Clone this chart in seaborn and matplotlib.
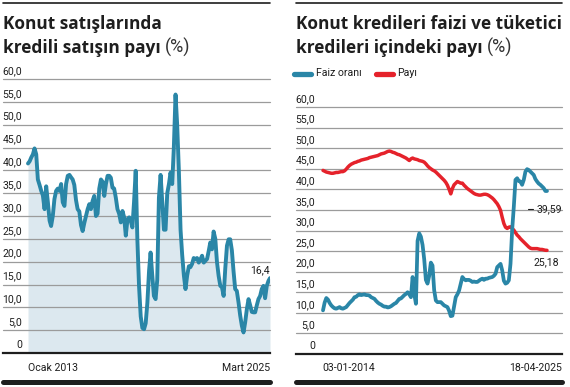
import numpy as np
import pandas as pd
import matplotlib.pyplot as plt
import matplotlib.dates as mdates
import matplotlib.transforms as mtransforms
import seaborn as sns
from matplotlib.lines import Line2D

# %% Data — left: share of mortgage sales in housing sales (monthly, Jan 2013 – Mar 2025)
sales_share = [
    41.5, 42.0, 42.8, 43.5, 44.8, 43.5, 38.0, 36.8, 35.5, 34.5, 31.5, 36.5,
    33.0, 29.0, 27.8, 30.0, 33.7, 35.5, 36.0, 35.5, 37.0, 33.0, 32.2, 37.0,
    38.8, 39.0, 38.5, 38.0, 36.8, 33.5, 31.5, 31.0, 28.0, 26.7, 28.5, 30.0,
    31.5, 32.6, 31.5, 33.3, 34.4, 30.0, 30.5, 36.0, 38.0, 37.5, 34.4, 37.0,
    38.8, 38.8, 38.4, 36.2, 36.0, 34.0, 31.5, 30.5, 28.6, 31.1, 29.7, 25.7,
    29.3, 29.7, 29.0, 27.5, 33.0, 39.9, 25.0, 14.7, 8.0, 5.5, 5.2, 6.5,
    11.0, 18.0, 22.0, 17.0, 12.5, 11.8, 16.0, 34.0, 39.0, 33.0, 27.0, 27.0,
    35.0, 37.0, 39.5, 37.0, 45.0, 56.6, 50.0, 40.0, 27.0, 21.5, 17.0, 14.0,
    17.0, 19.0, 18.8, 19.5, 20.8, 20.5, 20.8, 19.8, 20.5, 21.3, 19.8, 20.2,
    20.6, 22.4, 24.2, 22.7, 26.6, 25.0, 20.0, 16.9, 14.7, 14.4, 12.5, 18.5,
    23.5, 24.9, 24.9, 22.5, 18.0, 14.0, 13.6, 11.1, 8.2, 6.0, 4.5, 6.7,
    9.6, 11.8, 10.5, 9.0, 8.9, 8.9, 10.4, 11.8, 12.5, 14.0, 14.7, 12.0,
    14.7, 15.8, 16.4,
]
left_xlabels = ["Ocak 2013", "Mart 2025"]

# %% Data — right: mortgage rate and share in consumer loans (03-01-2014 – 18-04-2025)
rate = [
    10.6, 12.5, 13.6, 13.2, 12.4, 11.8, 11.4, 11.1, 11.0, 11.2, 11.4, 11.1,
    11.0, 11.2, 11.4, 11.9, 12.4, 12.8, 13.2, 13.8, 13.9, 14.3, 14.5, 14.3,
    14.4, 14.5, 14.3, 14.3, 14.2, 13.8, 13.6, 13.4, 12.9, 12.5, 12.2, 12.0,
    11.7, 11.5, 11.5, 11.3, 11.4, 11.6, 11.9, 12.2, 12.4, 12.9, 13.4, 13.5,
    13.9, 14.3, 14.6, 15.0, 14.5, 13.8, 18.7, 14.6, 12.2, 27.5, 29.3, 28.5,
    26.5, 23.0, 18.0, 17.1, 19.0, 22.2, 21.5, 15.5, 13.0, 12.6, 12.6, 12.6,
    12.2, 11.8, 11.6, 11.4, 10.5, 9.2, 9.3, 11.5, 13.8, 14.5, 15.4, 17.1,
    18.7, 18.2, 17.9, 18.0, 18.0, 17.8, 17.5, 17.6, 17.5, 17.5, 17.8, 18.1,
    18.3, 18.0, 18.3, 18.3, 18.5, 18.6, 18.7, 19.0, 19.5, 21.1, 21.5, 21.9,
    20.3, 17.8, 17.1, 17.3, 17.9, 21.9, 30.1, 35.8, 42.3, 42.7, 42.0, 41.9,
    41.1, 42.3, 44.3, 44.9, 44.7, 44.3, 43.9, 43.5, 42.5, 41.9, 41.4, 41.1,
    40.7, 40.3, 39.6, 39.59,
]
share = [
    44.6, 44.4, 44.2, 44.1, 44.0, 43.9, 43.9, 44.0, 44.1, 44.1, 44.2, 44.3,
    44.3, 44.5, 44.9, 45.4, 45.8, 46.1, 46.3, 46.5, 46.6, 46.8, 46.9, 47.1,
    47.2, 47.3, 47.4, 47.5, 47.7, 47.8, 47.9, 48.0, 48.1, 48.2, 48.4, 48.6,
    48.7, 48.8, 49.0, 49.2, 49.3, 49.2, 49.0, 48.9, 48.7, 48.5, 48.4, 48.2,
    48.0, 47.8, 47.6, 47.3, 47.0, 47.4, 47.6, 47.4, 47.3, 47.2, 47.0, 46.9,
    46.8, 46.6, 46.2, 45.7, 45.3, 45.0, 44.7, 44.5, 44.2, 43.8, 43.4, 43.0,
    42.6, 42.2, 41.7, 41.0, 40.0, 38.9, 40.2, 41.1, 41.5, 41.9, 41.7, 41.5,
    41.5, 41.0, 40.6, 40.2, 39.9, 39.6, 39.3, 39.0, 38.8, 38.7, 38.6, 38.6,
    38.7, 38.8, 38.8, 38.7, 38.5, 38.2, 37.9, 37.5, 37.0, 36.5, 35.8, 34.9,
    33.2, 31.7, 30.8, 30.5, 30.8, 30.9, 30.5, 30.1, 29.5, 28.9, 28.5, 28.0,
    27.6, 27.2, 26.8, 26.4, 26.0, 25.7, 25.6, 25.6, 25.6, 25.6, 25.5, 25.4,
    25.4, 25.3, 25.2, 25.18,
]
right_xlabels = ["03-01-2014", "18-04-2025"]
legend_labels = ["Faiz oranı", "Payı"]
end_labels = ["39,59", "25,18"]

yticks = list(range(0, 61, 5))
ytick_labels = ["0"] + [f"{v},0" for v in yticks[1:]]

months = pd.date_range("2013-01-01", periods=len(sales_share), freq="MS")
days = pd.date_range("2014-01-03", "2025-04-18", periods=len(rate))

# %% Style
BLUE = "#2a86a7"
RED = "#e5222b"
FILL = "#dce8ef"
GRID = "#9b9b9b"
INK = "#1e1e1e"
SMALL = "Roboto"
FS = 7.6

sns.set_theme(style="white")
plt.rcParams["font.family"] = ["Roboto", "DejaVu Sans"]

W, H = 570, 387
fig = plt.figure(figsize=(W / 100, H / 100), dpi=100)


def fx(px):
    return px / W


def fy(py):
    return 1 - py / H


def add_panel(x0, x1, y_top, y_bot):
    return fig.add_axes([fx(x0), fy(y_bot), fx(x1 - x0), (y_bot - y_top) / H])


def setup(ax, x0px, x1px, label_right_px):
    ax.set_ylim(0, 60)
    for s in ["top", "right", "left"]:
        ax.spines[s].set_visible(False)
    ax.spines["bottom"].set_color(INK)
    ax.spines["bottom"].set_linewidth(1.6)
    ax.tick_params(left=False, bottom=False, labelleft=False, labelbottom=False)
    for v in yticks[1:]:
        ax.axhline(v, color=GRID, lw=0.9, zorder=1, clip_on=False)
    frac = (label_right_px - x0px) / (x1px - x0px)
    trans = mtransforms.blended_transform_factory(ax.transAxes, ax.transData)
    for v, lab in zip(yticks, ytick_labels):
        ax.annotate(lab, (frac, v), xycoords=trans, xytext=(0, 2.2),
                    textcoords="offset points", ha="right", va="bottom",
                    fontsize=FS, family=SMALL, color=INK)


def set_xlim(ax, dates, left_px, right_px, span_px):
    d0, d1 = mdates.date2num(dates[0]), mdates.date2num(dates[-1])
    pp = (d1 - d0) / span_px
    ax.set_xlim(d0 - left_px * pp, d1 + right_px * pp)


def title(x, y1, y2, line1, line2):
    kw = dict(fontsize=12.4, fontweight="bold", color=INK, va="baseline",
              family=["Open Sans", "DejaVu Sans"])
    fig.text(fx(x), fy(y1), line1, **kw)
    t = fig.text(fx(x), fy(y2), line2, **kw)
    r = fig.canvas.get_renderer()
    bb = t.get_window_extent(renderer=r)
    fig.text(bb.x1 / W + fx(4), fy(y2), "(%)", fontsize=13, fontweight="normal",
             color="#333333", va="baseline", family=["Roboto", "DejaVu Sans"])


def frame_rules(x0, x1):
    fig.add_artist(Line2D([fx(x0), fx(x1)], [fy(3), fy(3)], color=INK, lw=1.2))
    fig.add_artist(Line2D([fx(x0), fx(x1)], [fy(381.5), fy(381.5)], color=INK, lw=3.6))


# %% Left panel
axl = add_panel(3, 270, 79, 353)
setup(axl, 3, 270, 22)
set_xlim(axl, months, 25, 0, 242)
axl.fill_between(months, sales_share, 0, color=FILL, lw=0, zorder=0.5)
sns.lineplot(x=months, y=sales_share, ax=axl, color=BLUE, lw=2.8, zorder=3)
axl.set(xlabel="", ylabel="")
axl.annotate("16,4", (1, 17.0), xycoords=("axes fraction", "data"), ha="right",
             va="bottom", fontsize=FS, family=SMALL, color=INK)
fig.text(fx(28), fy(368), left_xlabels[0], ha="left", va="center", fontsize=FS,
         family=SMALL, color=INK)
fig.text(fx(270), fy(368), left_xlabels[1], ha="right", va="center", fontsize=FS,
         family=SMALL, color=INK)
title(3, 29, 53, "Konut satışlarında", "kredili satışın payı")
frame_rules(3, 270)

# %% Right panel
axr = add_panel(296, 562, 107, 354)
setup(axr, 296, 562, 315)
set_xlim(axr, days, 27, 15, 224)
sns.lineplot(x=days, y=share, ax=axr, color=RED, lw=2.5, zorder=3)
sns.lineplot(x=days, y=rate, ax=axr, color=BLUE, lw=2.7, zorder=4)
axr.set(xlabel="", ylabel="")
trans_r = mtransforms.blended_transform_factory(axr.transAxes, axr.transData)
axr.text((537 - 296) / 266, 35.2, end_labels[0], transform=trans_r, ha="left",
         va="center", fontsize=FS, family=SMALL, color=INK)
axr.plot([(528 - 296) / 266, (533 - 296) / 266], [35.2, 35.2], transform=trans_r,
         color=INK, lw=0.8)
axr.text((533 - 296) / 266, 22.3, end_labels[1], transform=trans_r, ha="left",
         va="center", fontsize=FS, family=SMALL, color=INK)
fig.text(fx(322), fy(368), right_xlabels[0], ha="left", va="center", fontsize=FS,
         family=SMALL, color=INK)
fig.text(fx(562), fy(368), right_xlabels[1], ha="right", va="center", fontsize=FS,
         family=SMALL, color=INK)
title(296, 29, 53, "Konut kredileri faizi ve tüketici", "kredileri içindeki payı")
frame_rules(296, 562)

# legend
for (x0, x1, xt), col, lab in zip([(294, 311, 316), (376, 393, 397)], [BLUE, RED], legend_labels):
    fig.add_artist(Line2D([fx(x0), fx(x1)], [fy(73.5), fy(73.5)], color=col, lw=3.8,
                          solid_capstyle="round"))
    fig.text(fx(xt), fy(73.5), lab, ha="left", va="center", fontsize=FS,
             family=SMALL, color=INK)

fig.savefig("out.png", dpi=100)
